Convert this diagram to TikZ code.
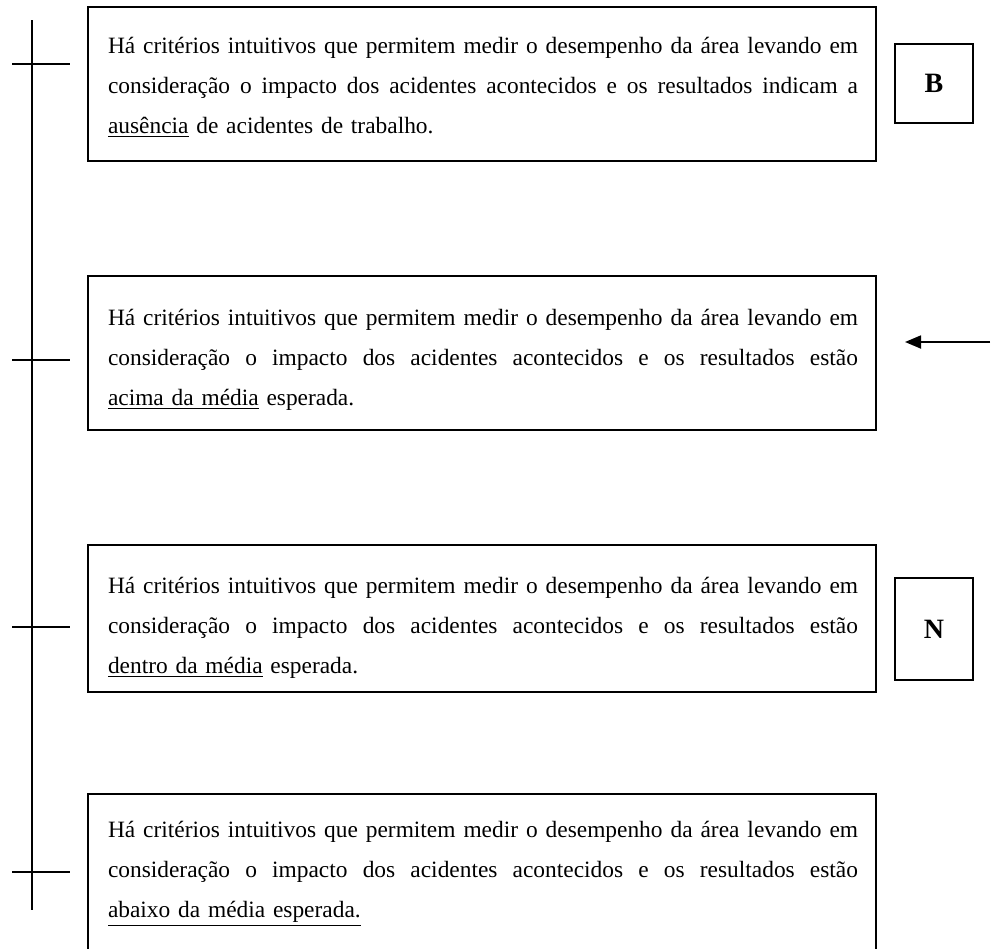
\documentclass[tikz,border=0pt]{standalone}
\usepackage{fontspec}
\setmainfont{Liberation Serif}
\usetikzlibrary{arrows.meta}
\newcommand{\jline}[1]{\leavevmode\hbox to 375pt{\spaceskip=0.25em plus 3em minus 0.08em\relax #1}}
\begin{document}
\begin{tikzpicture}[x=0.5pt,y=-0.5pt,
  frame/.style={draw,line width=0.9pt,inner sep=0pt},
  rule/.style={line width=0.9pt},
  txt/.style={inner sep=0pt,text width=375pt,align=left,font=\fontsize{11.7}{20}\selectfont},
  lab/.style={font=\fontsize{14}{16}\selectfont\bfseries}]
\useasboundingbox (0,0) rectangle (992,949);
\clip (0,0) rectangle (992,949);

% boxes
\node[frame,minimum width=394pt,minimum height=77pt] (b1) at (482,84) {};
\node[frame,minimum width=394pt,minimum height=77pt] (b2) at (482,353) {};
\node[frame,minimum width=394pt,minimum height=73.5pt] (b3) at (482,618.5) {};
\node[frame,minimum width=394pt,minimum height=83pt] (b4) at (482,877) {};

% texts
\node[txt] (t1) at (483,87) {\jline{Há critérios intuitivos que permitem medir o desempenho da área levando em}\\
\jline{consideração o impacto dos acidentes acontecidos e os resultados indicam a}\\
\underline{ausência} de acidentes de trabalho.};
\node[txt] (t2) at (483,360) {\jline{Há critérios intuitivos que permitem medir o desempenho da área levando em}\\
\jline{consideração o impacto dos acidentes acontecidos e os resultados estão}\\
\underline{acima da média} esperada.};
\node[txt] (t3) at (483,628) {\jline{Há critérios intuitivos que permitem medir o desempenho da área levando em}\\
\jline{consideração o impacto dos acidentes acontecidos e os resultados estão}\\
\underline{dentro da média} esperada.};
\node[txt] (t4) at (483,874) {\jline{Há critérios intuitivos que permitem medir o desempenho da área levando em}\\
\jline{consideração o impacto dos acidentes acontecidos e os resultados estão}\\
\underline{abaixo da média esperada.}};

% side labels
\node[frame,lab,minimum width=39pt,minimum height=39.5pt] (B) at (934,83.5) {B};
\node[frame,lab,minimum width=39pt,minimum height=51pt] (N) at (934,629) {N};

% vertical scale
\coordinate (vtop) at (32,20);
\coordinate (vbot) at (32,910);
\draw[rule] (vtop) -- (vbot);
\foreach \i/\y in {1/64,2/360,3/627,4/872}{
  \coordinate (tl\i) at (12,\y);
  \coordinate (tr\i) at (70,\y);
  \draw[rule] (tl\i) -- (tr\i);
}

% arrow
\coordinate (as) at (990,342);
\coordinate (ae) at (905,342);
\draw[rule,-{Triangle[length=8pt,width=6.5pt]}] (as) -- (ae);
\end{tikzpicture}
\end{document}
